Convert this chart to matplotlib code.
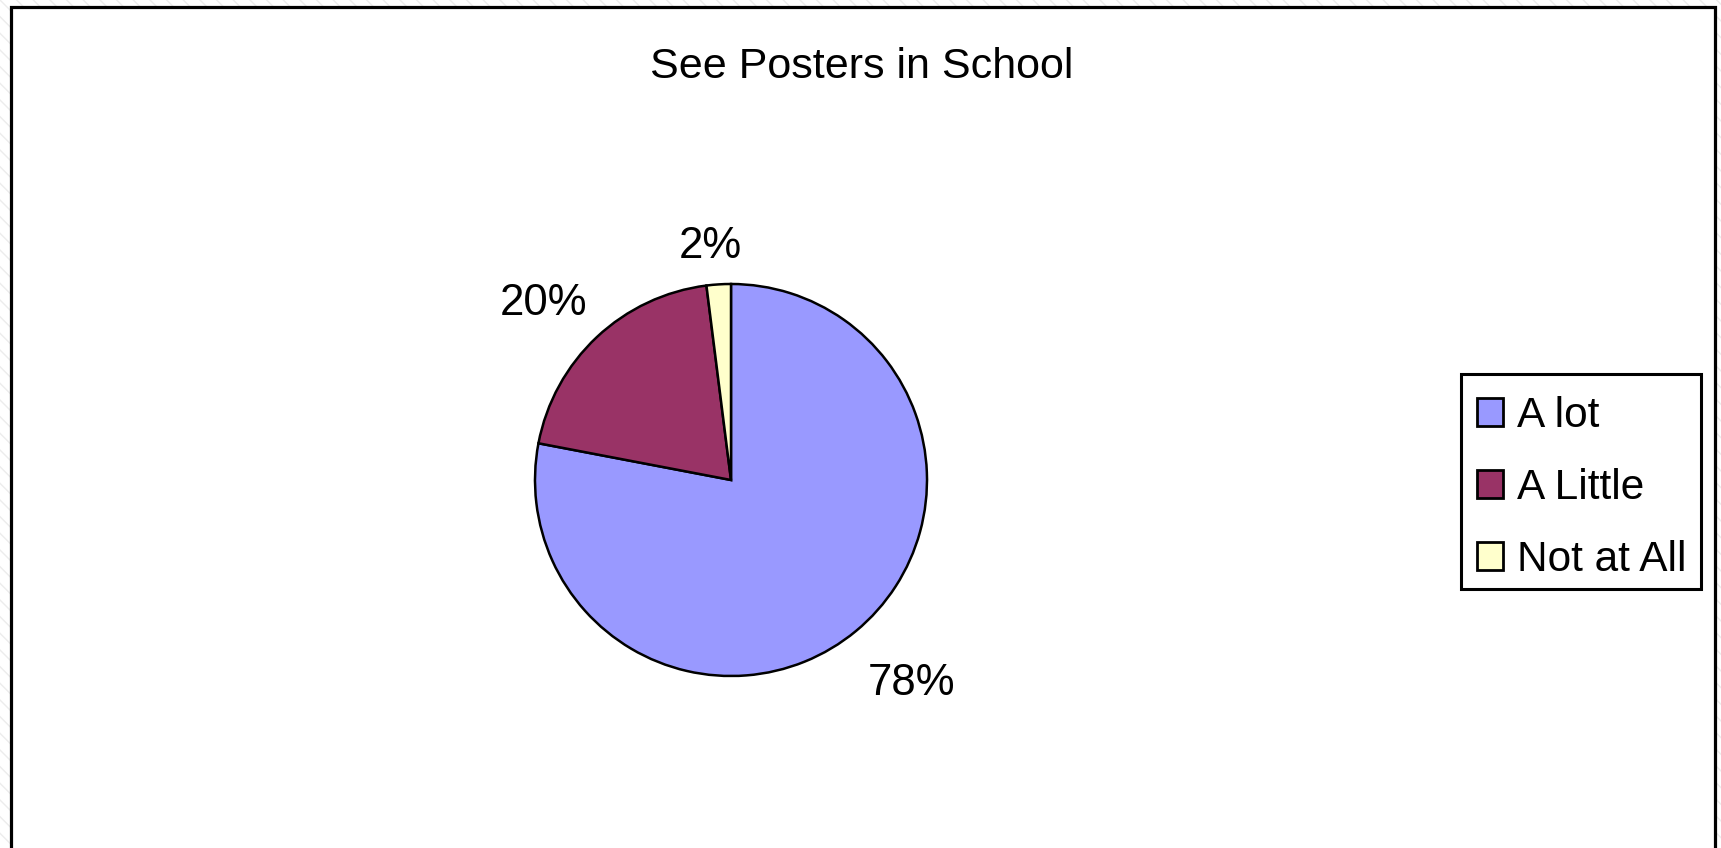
import numpy as np
import matplotlib.pyplot as plt
import matplotlib.transforms as mtransforms
from matplotlib.patches import Rectangle

# Data
categories = ['A lot', 'A Little', 'Not at All']
values = [78, 20, 2]
colors = ['#9999FF', '#993366', '#FFFFCC']
title = 'See Posters in School'

W, H = 1721, 848
plt.rcParams['font.family'] = ['Liberation Sans', 'DejaVu Sans']

fig = plt.figure(figsize=(W / 100, H / 100), dpi=100)
fig.patch.set_facecolor('white')

# faint hatched background outside the chart area
bg = Rectangle((0, 0), 1, 1, transform=fig.transFigure, facecolor='white',
               edgecolor='#ececec', hatch='\\\\', linewidth=0, zorder=-2)
fig.patches.append(bg)

# chart area with black frame (bottom edge runs off the image)
frame = Rectangle((11 / W, -0.05), (1715 - 11) / W, 1.05 - 7 / H,
                  transform=fig.transFigure, facecolor='white',
                  edgecolor='black', linewidth=2.3, zorder=-1)
fig.patches.append(frame)

# pie axes: centre (731, 480) px, radius 196 px
cx, cy, r = 731, 480, 196
ax = fig.add_axes([(cx - r) / W, (H - cy - r) / H, 2 * r / W, 2 * r / H])
wedges, _ = ax.pie(values, colors=colors, startangle=90, counterclock=False,
                   wedgeprops=dict(edgecolor='black', linewidth=1.8))
ax.set_xlim(-1, 1)
ax.set_ylim(-1, 1)
ax.set_aspect('equal')
ax.axis('off')

# percentage labels outside the slices (distance, angle nudge in degrees)
label_dist = [1.37, 1.33, 1.22]
label_nudge = [2.7, 2.9, 1.4]
total = sum(values)
shift = mtransforms.ScaledTranslation(0, -4.5 / 100, fig.dpi_scale_trans)
for w, v, d, n in zip(wedges, values, label_dist, label_nudge):
    ang = np.deg2rad((w.theta1 + w.theta2) / 2 + n)
    ax.text(d * np.cos(ang), d * np.sin(ang), f'{round(100 * v / total)}%',
            ha='center', va='center', fontsize=31.5, clip_on=False,
            transform=ax.transData + shift)

fig.text(862 / W, 1 - 67 / H, title, ha='center', va='center', fontsize=31)

# legend box drawn separately so the entries can sit slightly lower
legbox = Rectangle((1461 / W, 1 - 589 / H), 240 / W, 215 / H,
                   transform=fig.transFigure, facecolor='white',
                   edgecolor='black', linewidth=2.2, zorder=0)
fig.patches.append(legbox)

leg = fig.legend(wedges, categories, loc='center left',
                 bbox_to_anchor=(1461 / W, 1 - 488 / H),
                 bbox_transform=fig.transFigure, fontsize=30.5,
                 frameon=False, borderaxespad=0,
                 handlelength=0.63, handleheight=0.63, handletextpad=0.33,
                 labelspacing=0.76, borderpad=0.37)
for h in leg.legend_handles:
    h.set_linewidth(2.0)
    h.set_edgecolor('black')

fig.savefig('out.png', dpi=100, facecolor=fig.get_facecolor())
